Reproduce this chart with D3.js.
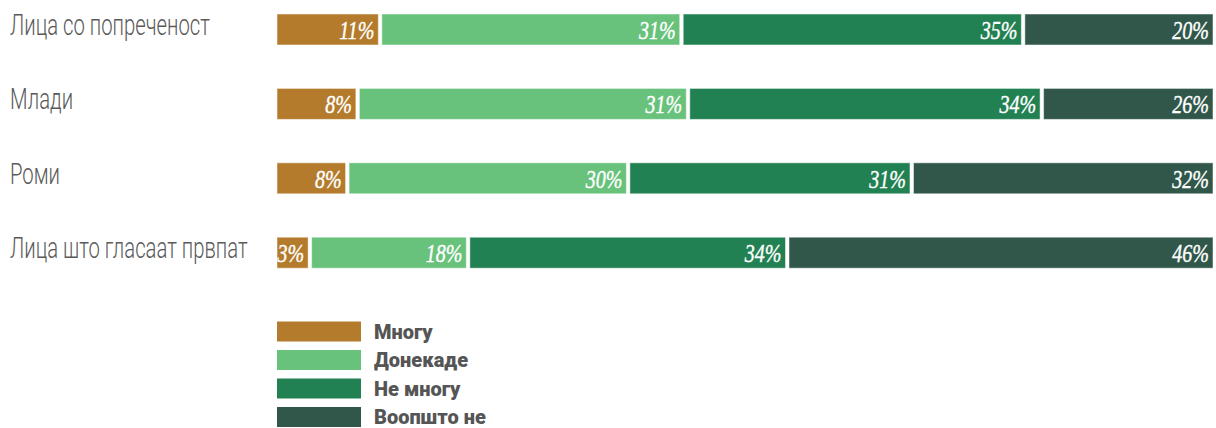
<!DOCTYPE html>
<html lang="mk">
  <head>
    <meta charset="utf-8">
    <title>Stacked bars</title>
    <style>
      body { margin: 0; background: #ffffff; }
    </style>
    <script src="https://d3js.org/d3.v7.min.js"></script>
  </head>
  <body>
    <div id="chart"></div>
    <script>
      // data
      var groups = ["Лица со попреченост", "Млади", "Роми", "Лица што гласаат првпат"];
      var answers = ["Многу", "Донекаде", "Не многу", "Воопшто не"];
      // labels printed on the bars
      var labels = [
        ["11%", "31%", "35%", "20%"],
        ["8%", "31%", "34%", "26%"],
        ["8%", "30%", "31%", "32%"],
        ["3%", "18%", "34%", "46%"]
      ];
      // share of the bar each segment takes (as drawn)
      var shares = [
        [11.2, 32.2, 36.5, 20.1],
        [8.8, 35.3, 37.8, 18.1],
        [7.7, 30.0, 30.3, 32.0],
        [3.7, 16.9, 34.1, 45.3]
      ];
      var colors = ["#b37b2b", "#68c27c", "#228152", "#30574a"];

      var W = 1216, H = 428;
      var svg = d3.select("#chart").append("svg")
        .attr("width", W)
        .attr("height", H);

      var barH = 31;
      var gap = 3.5;
      var x = d3.scaleLinear().domain([0, 100]).range([277, 1213]);
      // step of 74.4px, bars 31px tall
      var y = d3.scaleBand().domain(groups).range([14, 268.2]).paddingInner(1 - barH / 74.4).paddingOuter(0);
      var color = d3.scaleOrdinal().domain(answers).range(colors);

      // category labels
      svg.selectAll(".cat")
        .data(groups)
        .enter()
        .append("text")
          .attr("class", "cat")
          .attr("transform", function(d){ return "translate(10," + (y(d) + 21) + ") scale(0.7,1)"; })
          .text(function(d){ return d; })
          .attr("font-family", "Roboto, 'DejaVu Sans'")
          .attr("font-weight", 300)
          .attr("font-size", "29px")
          .attr("fill", "#5a5a5a");

      // stacked segments
      groups.forEach(function(g, i) {
        var start = 0;
        var row = svg.append("g");
        shares[i].forEach(function(v, j) {
          var x0 = x(start), x1 = x(start + v);
          var w = j == 3 ? x1 - x0 : x1 - x0 - gap;
          row.append("rect")
            .attr("x", x0)
            .attr("y", y(g))
            .attr("width", w)
            .attr("height", barH)
            .attr("fill", color(answers[j]))
            .attr("stroke", "#ffffff")
            .attr("stroke-opacity", 0.5)
            .attr("stroke-width", 1);
          row.append("text")
            .attr("transform", "translate(" + (x0 + w - 4) + "," + (y(g) + 25) + ") scale(0.77,1)")
            .attr("text-anchor", "end")
            .text(labels[i][j])
            .attr("font-family", "'Liberation Serif', 'DejaVu Serif'")
            .attr("font-style", "italic")
            .attr("font-size", "26px")
            .attr("stroke", "#ffffff")
            .attr("stroke-width", 0.4)
            .attr("fill", "#ffffff");
          start += v;
        });
      });

      // legend
      var legend = svg.selectAll(".leg")
        .data(answers)
        .enter()
        .append("g")
          .attr("class", "leg")
          .attr("transform", function(d, i){ return "translate(277," + (321.5 + i * 28.5) + ")"; });

      legend.append("rect")
        .attr("width", 84)
        .attr("height", 20)
        .attr("fill", function(d){ return color(d); });

      legend.append("text")
        .attr("transform", "translate(97,17)")
        .text(function(d){ return d; })
        .attr("font-family", "Roboto, 'DejaVu Sans'")
        .attr("font-weight", 900)
        .attr("font-size", "20px")
        .attr("fill", "#555555");
    </script>
  </body>
</html>
